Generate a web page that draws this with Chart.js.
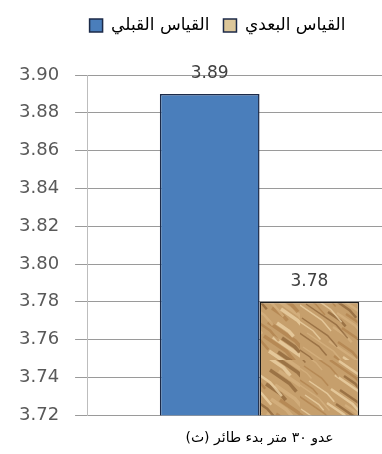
<!DOCTYPE html>
<html>
<head>
<meta charset="utf-8">
<script src="https://cdn.jsdelivr.net/npm/chart.js@4"></script>
<style>
  body { margin: 0; overflow: hidden; background: #fff; }
  #wrap { width: 432px; height: 454px; }
</style>
</head>
<body>
<div id="wrap"><canvas id="chart"></canvas></div>
<script>
const categories = ["عدو ٣٠ متر بدء طائر (ث)"];
const seriesNames = ["القياس القبلي", "القياس البعدي"];
const preValues = [3.89];
const postValues = [3.78];
const yTicks = { min: 3.72, max: 3.90, step: 0.02 };

// crumpled paper look for the second bar
function paperPattern() {
    const pc = document.createElement("canvas");
    pc.width = 100;
    pc.height = 120;
    const g = pc.getContext("2d");
    g.fillStyle = "#c69f6c";
    g.fillRect(0, 0, 100, 120);
    const tones = ["rgba(120,78,38,0.55)", "rgba(238,212,168,0.75)", "rgba(165,115,62,0.5)", "rgba(215,180,130,0.7)"];
    for (let i = 0; i < 60; i++) {
        const x = (i * 37) % 110 - 10;
        const y = (i * 53) % 130 - 10;
        const len = 14 + (i * 7) % 26;
        g.strokeStyle = tones[i % 4];
        g.lineWidth = 1.5 + (i % 3);
        g.beginPath();
        g.moveTo(x, y);
        g.lineTo(x + len * 0.8, y + len * 0.55);
        g.lineTo(x + len * 1.1, y + len * 0.9);
        g.stroke();
    }
    return g.createPattern(pc, "repeat");
}

const valueLabels = {
    id: "valueLabels",
    afterDatasetsDraw(chart) {
        const ctx = chart.ctx;
        ctx.save();
        ctx.font = "17px 'DejaVu Sans'";
        ctx.fillStyle = "#404040";
        ctx.textAlign = "center";
        ctx.textBaseline = "alphabetic";
        chart.data.datasets.forEach((ds, i) => {
            chart.getDatasetMeta(i).data.forEach((bar, j) => {
                ctx.fillText(ds.data[j].toFixed(2), bar.x, bar.y - 16);
            });
        });
        ctx.restore();
    }
};

// extra room under the legend
const legendGap = {
    id: "legendGap",
    beforeInit(chart) {
        const fit = chart.legend.fit;
        chart.legend.fit = function () {
            fit.bind(chart.legend)();
            this.height += 31;
        };
    }
};

const canvas = document.getElementById("chart");
new Chart(canvas, {
    type: "bar",
    data: {
        labels: categories,
        datasets: [{
            label: seriesNames[0],
            data: preValues,
            backgroundColor: "#4a7ebb",
            borderColor: "#1c2a48",
            borderWidth: 1.5
        }, {
            label: seriesNames[1],
            data: postValues,
            backgroundColor: paperPattern(),
            borderColor: "#1a1a1a",
            borderWidth: 1.5
        }]
    },
    plugins: [valueLabels, legendGap],
    options: {
        responsive: true,
        maintainAspectRatio: false,
        animation: false,
        layout: { padding: { left: 3, top: 3, right: 0, bottom: 0 } },
        datasets: { bar: { barPercentage: 1, categoryPercentage: 0.578 } },
        plugins: {
            tooltip: { enabled: false },
            legend: {
                position: "top",
                align: "center",
                labels: {
                    font: { family: "DejaVu Sans", size: 17 },
                    color: "#000",
                    boxWidth: 13,
                    boxHeight: 13,
                    padding: 14,
                    generateLabels(chart) {
                        const fills = ["#4a7ebb", "#dcc79a"];
                        return chart.data.datasets.map((ds, i) => ({
                            text: ds.label,
                            fillStyle: fills[i],
                            strokeStyle: "#1c2a48",
                            lineWidth: 1.5,
                            datasetIndex: i
                        }));
                    }
                }
            }
        },
        scales: {
            x: {
                grid: { display: false },
                border: { display: false },
                ticks: {
                    color: "#000",
                    font: { family: "DejaVu Sans", size: 14 },
                    padding: 7
                }
            },
            y: {
                min: yTicks.min,
                max: yTicks.max,
                ticks: {
                    stepSize: yTicks.step,
                    color: "#595959",
                    font: { family: "DejaVu Sans", size: 18 },
                    padding: 16,
                    callback: v => v.toFixed(2)
                },
                grid: { color: "#9a9a9a", tickLength: 12 },
                border: { display: true, color: "#bdbdbd" }
            }
        }
    }
});
</script>
</body>
</html>
